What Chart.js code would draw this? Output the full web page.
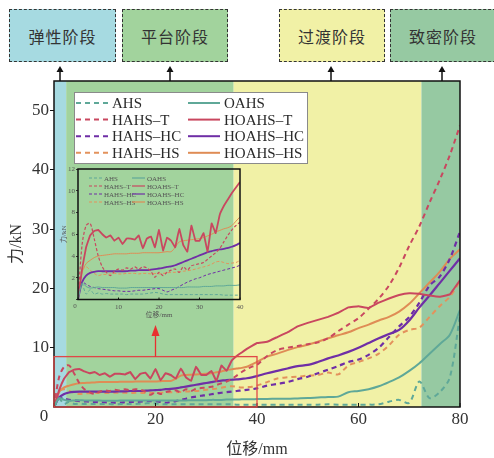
<!DOCTYPE html>
<html>
<head>
<meta charset="utf-8">
<script src="https://cdn.jsdelivr.net/npm/chart.js@4"></script>
<style>
  body { margin: 0; background: #fff; }
  #wrap { position: relative; width: 494px; height: 458px; overflow: hidden; }
  #main { position: absolute; left: 0; top: 0; }
  #inset { position: absolute; left: 55px; top: 160px; }
  .stage {
    position: absolute; top: 9px; height: 53px; box-sizing: border-box;
    border: 1.5px dashed #333; color: #333;
    font: 16px "Noto Sans CJK SC", sans-serif; letter-spacing: 1px;
    display: flex; align-items: center; justify-content: center;
  }
</style>
</head>
<body>
<div id="wrap">
  <div class="stage" style="left:9px;width:107px;background:#a6dae1">弹性阶段</div>
  <div class="stage" style="left:122px;width:106px;background:#a2d39d">平台阶段</div>
  <div class="stage" style="left:279px;width:106px;background:#f1f1a6">过渡阶段</div>
  <div class="stage" style="left:390px;width:106px;background:#96c9a2">致密阶段</div>
  <canvas id="main" width="494" height="458"></canvas>
  <canvas id="inset" width="195" height="165"></canvas>
</div>
<script>
// ---- data ----
const displacement = [0,1,2,3,4,5,6,7,8,9,10,11,12,13,14,15,16,17,18,19,20,
  21,22,23,24,25,26,27,28,29,30,31,32,33,34,35,36,37,38,39,40,
  42,44,46,48,50,52,54,56,58,60,62,64,66,68,70,72,74,76,78,80];

const AHS = [0,1.4,0.5,0.9,0.5, 0.6,0.5,0.55,0.5,0.5, 0.5,0.5,0.45,0.5,0.5, 0.5,0.5,0.55,0.6,0.65,
  0.6,0.5,0.45,0.45,0.45, 0.45,0.45,0.45,0.45,0.45, 0.45,0.45,0.45,0.45,0.45, 0.45,0.4,0.4,0.4,0.4, 0.4,
  0.4,0.4,0.4,0.4,0.4, 0.4,0.45,0.4,0.4,0.4, 0.4,0.45,0.9,1.2,0.7, 4.3,1.5,2.5,5.0,15.5];
const OAHS = [0,1.5,1.2,1.05,1.1, 1.15,1.1,1.1,1.1,1.1, 1.05,1.05,1.05,1.1,1.1, 1.1,1.1,1.1,1.1,1.1,
  1.1,1.1,1.1,1.1,1.1, 1.1,1.1,1.15,1.15,1.15, 1.15,1.2,1.2,1.2,1.25, 1.25,1.25,1.3,1.3,1.3, 1.35,
  1.35,1.4,1.4,1.45,1.5, 1.6,1.7,1.75,2.5,2.7, 3.0,3.5,4.2,5.0,6.1, 7.4,9.0,10.6,12.2,16.4];
const HAHS_T = [0,5.0,6.8,7.0,5.6, 4.0,3.0,2.5,2.2,2.6, 2.8,2.7,2.9,2.8,3.0, 2.8,3.0,2.9,2.6,2.05,
  2.5,2.2,2.5,2.7,2.8, 2.5,3.0,2.7,3.1,3.2, 3.3,3.4,3.7,4.0,4.3, 4.7,5.3,5.9,6.4,6.8, 7.1,
  8.6,9.6,10.0,10.3,10.6, 10.9,11.6,12.8,13.9,15.0, 16.6,18.3,20.5,23.5,27.2, 30.5,34.5,38.3,42.5,47.5];
const HOAHS_T = [0,2.8,4.8,5.9,6.3, 6.4,6.0,5.7,5.9,5.4, 5.7,5.1,5.6,5.6,5.5, 5.9,4.7,5.6,5.8,4.8,
  6.4,4.5,5.7,5.4,4.8, 6.5,5.0,4.4,6.8,5.4, 5.4,6.1,4.4,7.0,6.1, 7.8,8.6,9.2,9.8,10.3, 10.8,
  11.0,11.8,12.6,13.6,14.2, 14.7,15.2,15.9,16.8,17.0, 16.7,17.6,18.3,18.9,19.2, 19.1,18.8,18.6,19.0,21.4];
const HAHS_HC = [0,1.6,1.4,1.2,1.1, 1.0,0.95,0.9,0.85,0.8, 0.8,0.75,0.75,0.75,0.8, 0.85,0.85,0.9,0.95,1.0,
  1.0,0.85,0.7,0.85,1.0, 1.2,1.4,1.6,1.75,1.9, 2.0,2.15,2.3,2.4,2.5, 2.6,2.7,2.8,2.9,3.0, 3.15,
  3.6,3.9,4.2,4.7,5.1, 5.7,6.3,6.9,7.6,8.0, 8.8,10.0,11.8,13.6,15.2, 17.6,20.5,22.0,25.0,29.6];
const HOAHS_HC = [0,1.6,2.2,2.45,2.55, 2.6,2.6,2.6,2.6,2.6, 2.6,2.6,2.6,2.65,2.65, 2.7,2.7,2.7,2.75,2.8,
  2.85,2.9,3.0,3.05,3.15, 3.3,3.45,3.6,3.75,3.9, 4.05,4.2,4.35,4.45,4.55, 4.6,4.65,4.75,4.85,5.0, 5.2,
  5.7,6.1,6.5,6.9,7.1, 7.6,8.2,8.7,9.3,10.0, 10.8,11.6,12.3,13.0,14.6, 16.8,18.8,20.9,23.0,25.1];
const HAHS_HS = [0,2.6,3.0,2.7,2.4, 2.2,2.3,2.3,2.35,2.4, 2.35,2.35,2.4,2.4,2.4, 2.35,2.4,2.4,2.35,2.4,
  2.35,2.4,2.45,2.5,2.5, 2.55,2.6,2.65,2.7,2.8, 2.9,3.0,3.1,3.25,3.45, 3.5,3.4,3.3,3.35,3.4, 3.6,
  4.2,4.8,5.0,5.1,5.3, 5.4,5.8,5.5,7.0,7.6, 8.2,9.0,10.4,12.2,13.0, 13.4,15.2,17.0,18.6,21.2];
const HOAHS_HS = [0,2.5,3.3,3.6,3.85, 4.0,4.05,4.1,4.15,4.2, 4.2,4.2,4.2,4.25,4.25, 4.25,4.3,4.3,4.3,4.3,
  4.3,4.35,4.4,4.4,4.8, 5.3,5.4,5.45,5.5,5.55, 5.6,5.7,5.85,6.0,6.2, 6.35,6.5,6.6,6.8,7.2, 7.6,
  8.5,9.0,9.6,10.1,10.5, 11.0,11.6,12.1,12.6,13.3, 13.9,14.6,15.2,16.1,17.4, 19.2,21.0,22.8,25.0,26.6];

const seriesNames = ['AHS','OAHS','HAHS–T','HOAHS–T','HAHS–HC','HOAHS–HC','HAHS–HS','HOAHS–HS'];
const seriesValues = [AHS, OAHS, HAHS_T, HOAHS_T, HAHS_HC, HOAHS_HC, HAHS_HS, HOAHS_HS];

const stageEdges = [0, 2.4, 35.4, 72.4, 80];
const zoomBox = { xMax: 40, yMax: 8.5 };

// ---- styles ----
const seriesColors = ['#5fa898','#5fa898','#c9475f','#c9475f','#6f2ea6','#6f2ea6','#e3925c','#df8c55'];
const stageColors = ['#a6dae1','#a2d39d','#f1f1a6','#96c9a2'];
const serif = '"Liberation Serif", "Noto Sans CJK SC", serif';

function makeDatasets(maxX, widths, dash) {
  return seriesNames.map((name, i) => ({
    label: name,
    data: displacement.map((x, k) => ({ x: x, y: seriesValues[i][k] })).filter(p => p.x <= maxX),
    borderColor: seriesColors[i],
    borderWidth: widths[i],
    borderDash: i % 2 === 0 ? dash : [],
    tension: i === 3 ? 0.05 : 0.3,
    pointRadius: 0,
    fill: false
  }));
}

function drawFrame(chart, tickLen) {
  const { ctx, chartArea: a, scales } = chart;
  ctx.save();
  ctx.strokeStyle = '#111';
  ctx.lineWidth = 1.5;
  ctx.strokeRect(a.left, a.top, a.right - a.left, a.bottom - a.top);
  ctx.lineWidth = 1;
  scales.x.ticks.forEach(t => {
    const px = scales.x.getPixelForValue(t.value);
    ctx.beginPath();
    ctx.moveTo(px, a.bottom);
    ctx.lineTo(px, a.bottom - tickLen);
    ctx.stroke();
  });
  ctx.restore();
}

function drawLegend(chart, x0, y0, colGap, rowGap, sample, fontSize, boxed) {
  const ctx = chart.ctx;
  ctx.save();
  if (boxed) {
    ctx.fillStyle = '#fff';
    ctx.strokeStyle = '#8a8a8a';
    ctx.lineWidth = 1;
    ctx.fillRect(boxed[0], boxed[1], boxed[2], boxed[3]);
    ctx.strokeRect(boxed[0] + 0.5, boxed[1] + 0.5, boxed[2], boxed[3]);
  }
  ctx.font = fontSize + 'px ' + serif;
  ctx.textBaseline = 'middle';
  chart.data.datasets.forEach((ds, i) => {
    const cx = x0 + (i % 2) * colGap;
    const cy = y0 + Math.floor(i / 2) * rowGap;
    ctx.strokeStyle = ds.borderColor;
    ctx.lineWidth = boxed ? 2 : 1.2;
    ctx.setLineDash(ds.borderDash);
    ctx.beginPath();
    ctx.moveTo(cx, cy);
    ctx.lineTo(cx + sample, cy);
    ctx.stroke();
    ctx.setLineDash([]);
    ctx.fillStyle = boxed ? '#2a2a2a' : '#555';
    ctx.fillText(ds.label, cx + sample + (boxed ? 4 : 2), cy + 1);
  });
  ctx.restore();
}

function arrowUp(ctx, x, yTop, yBottom, color, headW, headH, lw) {
  ctx.save();
  ctx.strokeStyle = color;
  ctx.fillStyle = color;
  ctx.lineWidth = lw;
  ctx.beginPath();
  ctx.moveTo(x, yBottom);
  ctx.lineTo(x, yTop + headH);
  ctx.stroke();
  ctx.beginPath();
  ctx.moveTo(x, yTop);
  ctx.lineTo(x - headW / 2, yTop + headH);
  ctx.lineTo(x + headW / 2, yTop + headH);
  ctx.closePath();
  ctx.fill();
  ctx.restore();
}

const mainDeco = {
  id: 'mainDeco',
  beforeDatasetsDraw(chart) {
    const { ctx, chartArea: a, scales: { x } } = chart;
    ctx.save();
    for (let i = 0; i < stageColors.length; i++) {
      const x1 = x.getPixelForValue(stageEdges[i]);
      const x2 = x.getPixelForValue(stageEdges[i + 1]);
      ctx.fillStyle = stageColors[i];
      ctx.fillRect(x1, a.top, x2 - x1, a.bottom - a.top);
    }
    ctx.restore();
  },
  afterDatasetsDraw(chart) {
    const { ctx, chartArea: a, scales: { x, y } } = chart;
    drawFrame(chart, 4);
    // zoom rectangle + arrow to inset
    const rx2 = x.getPixelForValue(zoomBox.xMax);
    const ry1 = y.getPixelForValue(zoomBox.yMax);
    ctx.save();
    ctx.strokeStyle = '#e04848';
    ctx.lineWidth = 1.3;
    ctx.strokeRect(a.left, ry1, rx2 - a.left, a.bottom - ry1);
    ctx.restore();
    arrowUp(ctx, x.getPixelForValue(zoomBox.xMax / 2), 325, ry1, '#e8302f', 8, 11, 1.3);
    // stage arrows above plot
    [60, 170, 331, 442].forEach(px => arrowUp(ctx, px, 66, a.top, '#111', 7, 6, 1.5));
    drawLegend(chart, 76, 103, 112, 16.6, 32, 15, [74, 92, 233, 71]);
    ctx.save();
    ctx.font = '17px ' + serif;
    ctx.fillStyle = '#333';
    ctx.textAlign = 'center';
    ctx.textBaseline = 'middle';
    ctx.fillText('0', 44, 417);
    ctx.restore();
  }
};

const insetDeco = {
  id: 'insetDeco',
  afterDatasetsDraw(chart) {
    drawFrame(chart, 2);
    drawLegend(chart, 34, 18, 43, 8, 13, 7, null);
    const ctx = chart.ctx;
    ctx.save();
    ctx.font = '7px ' + serif;
    ctx.fillStyle = '#555';
    ctx.textAlign = 'center';
    ctx.textBaseline = 'middle';
    ctx.fillText('0', 20, 146);
    ctx.restore();
  }
};

new Chart(document.getElementById('main'), {
  type: 'line',
  data: { datasets: makeDatasets(80, [2, 2, 2, 2, 2.2, 2.2, 2, 2], [5, 4]) },
  options: {
    responsive: false,
    animation: false,
    layout: { padding: { left: 0, right: 34, top: 81, bottom: 0 } },
    plugins: { legend: { display: false }, tooltip: { enabled: false } },
    scales: {
      x: {
        type: 'linear', min: 0, max: 80,
        ticks: { stepSize: 20, padding: 2, color: '#333', font: { family: serif, size: 17 },
                 callback: v => (v === 0 ? '' : v) },
        grid: { display: false, drawTicks: false },
        border: { display: false },
        title: { display: true, text: '位移/mm', color: '#333',
                 font: { family: serif, size: 16, lineHeight: 1 }, padding: { top: 0, bottom: 0 } },
        afterFit: s => { s.height = 51; }
      },
      y: {
        min: 0, max: 55,
        ticks: { stepSize: 10, padding: 1, color: '#333', font: { family: serif, size: 17 },
                 callback: v => (v % 10 === 0 && v !== 0 ? v : '') },
        grid: { drawOnChartArea: false, tickLength: 4,
                color: c => (c.tick && c.tick.value % 10 === 0 && c.tick.value !== 0 ? '#111' : 'rgba(0,0,0,0)') },
        border: { display: false },
        title: { display: true, text: '力/kN', color: '#333',
                 font: { family: serif, size: 16, lineHeight: 1.2 }, padding: { top: 7, bottom: 0 } },
        afterFit: s => { s.width = 54; }
      }
    }
  },
  plugins: [mainDeco]
});

new Chart(document.getElementById('inset'), {
  type: 'line',
  data: { datasets: makeDatasets(40, [1, 1, 1.2, 1.8, 1, 1.8, 1, 1], [3, 2]) },
  options: {
    responsive: false,
    animation: false,
    layout: { padding: { left: 0, right: 10, top: 9, bottom: 0 } },
    plugins: { legend: { display: false }, tooltip: { enabled: false } },
    scales: {
      x: {
        type: 'linear', min: 0, max: 40,
        ticks: { stepSize: 10, padding: 3, color: '#555', font: { family: serif, size: 7 },
                 callback: v => (v === 0 ? '' : v) },
        grid: { display: false, drawTicks: false },
        border: { display: false },
        title: { display: true, text: '位移/mm', color: '#555',
                 font: { family: serif, size: 7, lineHeight: 1.2 }, padding: { top: 0, bottom: 6 } },
        afterFit: s => { s.height = 25.5; }
      },
      y: {
        min: 0, max: 12,
        ticks: { stepSize: 2, padding: 1, color: '#555', font: { family: serif, size: 7 },
                 callback: v => (v === 0 ? '' : v) },
        grid: { drawOnChartArea: false, tickLength: 2, color: '#333' },
        border: { display: false },
        title: { display: true, text: '力/kN', color: '#555',
                 font: { family: serif, size: 7, lineHeight: 1.2 }, padding: { top: 5, bottom: 0 } },
        afterFit: s => { s.width = 23; }
      }
    }
  },
  plugins: [insetDeco]
});
</script>
</body>
</html>
